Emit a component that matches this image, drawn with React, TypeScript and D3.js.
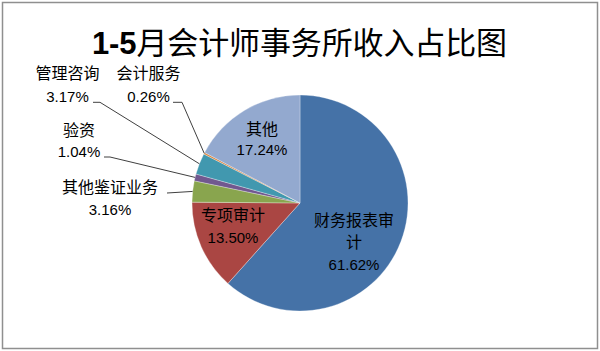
import React from "react";
import * as d3 from "d3";

const categories = ["财务报表审计", "专项审计", "其他鉴证业务", "验资", "管理咨询", "会计服务", "其他"];
const values = [61.62, 13.5, 3.16, 1.04, 3.17, 0.26, 17.24];
const colors = ["#4572A7", "#AA4643", "#89A54E", "#71588F", "#4198AF", "#DB843D", "#93A9CF"];
const title = "1-5月会计师事务所收入占比图";

// label layout: lines of category text, then percent
type Lay = { lines: string[]; cx: number; by: number[]; pby: number; outside?: { ex: number; ey: number; sx: number } };
const layout: Lay[] = [
  { lines: ["财务报表审", "计"], cx: 354, by: [226, 248], pby: 270 },
  { lines: ["专项审计"], cx: 233, by: [221], pby: 242.5 },
  { lines: ["其他鉴证业务"], cx: 110, by: [192.5], pby: 215, outside: { ex: 167, ey: 193, sx: 167 } },
  { lines: ["验资"], cx: 79, by: [136], pby: 156.7, outside: { ex: 104, ey: 157, sx: 110 } },
  { lines: ["管理咨询"], cx: 67.5, by: [78.5], pby: 101.7, outside: { ex: 93, ey: 102.3, sx: 100 } },
  { lines: ["会计服务"], cx: 148.5, by: [78.5], pby: 101.7, outside: { ex: 173, ey: 102.3, sx: 182 } },
  { lines: ["其他"], cx: 262, by: [134.5], pby: 155 },
];

const W = 600, H = 351;
const CX = 300, CY = 203, R = 108;
const FONT = "'Liberation Sans', Arial, 'Noto Sans CJK SC', sans-serif";

export default function App() {
  const data = categories.map((c, i) => ({ c, v: values[i], color: colors[i] }));
  const pie = d3.pie<any>().sort(null).value((d: any) => d.v).startAngle(0).endAngle(2 * Math.PI);
  const arcs = pie(data);
  const arc = d3.arc<any>().innerRadius(0).outerRadius(R);
  return (
    <svg width={W} height={H} style={{ position: "absolute", left: 0, top: 0, background: "#fff" }} fontFamily={FONT}>
      <rect x={2.5} y={2.5} width={595} height={346} fill="#fff" stroke="#8f8f8f" strokeWidth={1.5} />
      <text x={92} y={53.5} textAnchor="start" fontSize={31} fill="#000" textLength={415} lengthAdjust="spacing">
        <tspan fontWeight="bold">{title.slice(0, 3)}</tspan>
        <tspan>{title.slice(3)}</tspan>
      </text>
      <g transform={`translate(${CX},${CY})`}>
        {arcs.map((a, i) => (
          <path key={i} d={arc(a) as string} fill={a.data.color} stroke="#ffffff" strokeOpacity={0.5} strokeWidth={0.6} />
        ))}
      </g>
      {arcs.map((a, i) => {
        const L = layout[i];
        const o = L.outside;
        if (!o) return null;
        const mid = (a.startAngle + a.endAngle) / 2;
        const px = CX + R * Math.sin(mid);
        const py = CY - R * Math.cos(mid);
        return (
          <polyline key={"l" + i} points={`${o.ex},${o.ey} ${o.sx},${o.ey} ${px},${py}`} fill="none" stroke="#404040" strokeWidth={1} />
        );
      })}
      {arcs.map((a, i) => {
        const L = layout[i];
        return (
          <g key={"t" + i} fill="#000" textAnchor="middle">
            {L.lines.map((ln, j) => (
              <text key={j} x={L.cx} y={L.by[j]} fontSize={16}>{ln}</text>
            ))}
            <text x={L.cx} y={L.pby} fontSize={15}>{a.data.v.toFixed(2) + "%"}</text>
          </g>
        );
      })}
    </svg>
  );
}
